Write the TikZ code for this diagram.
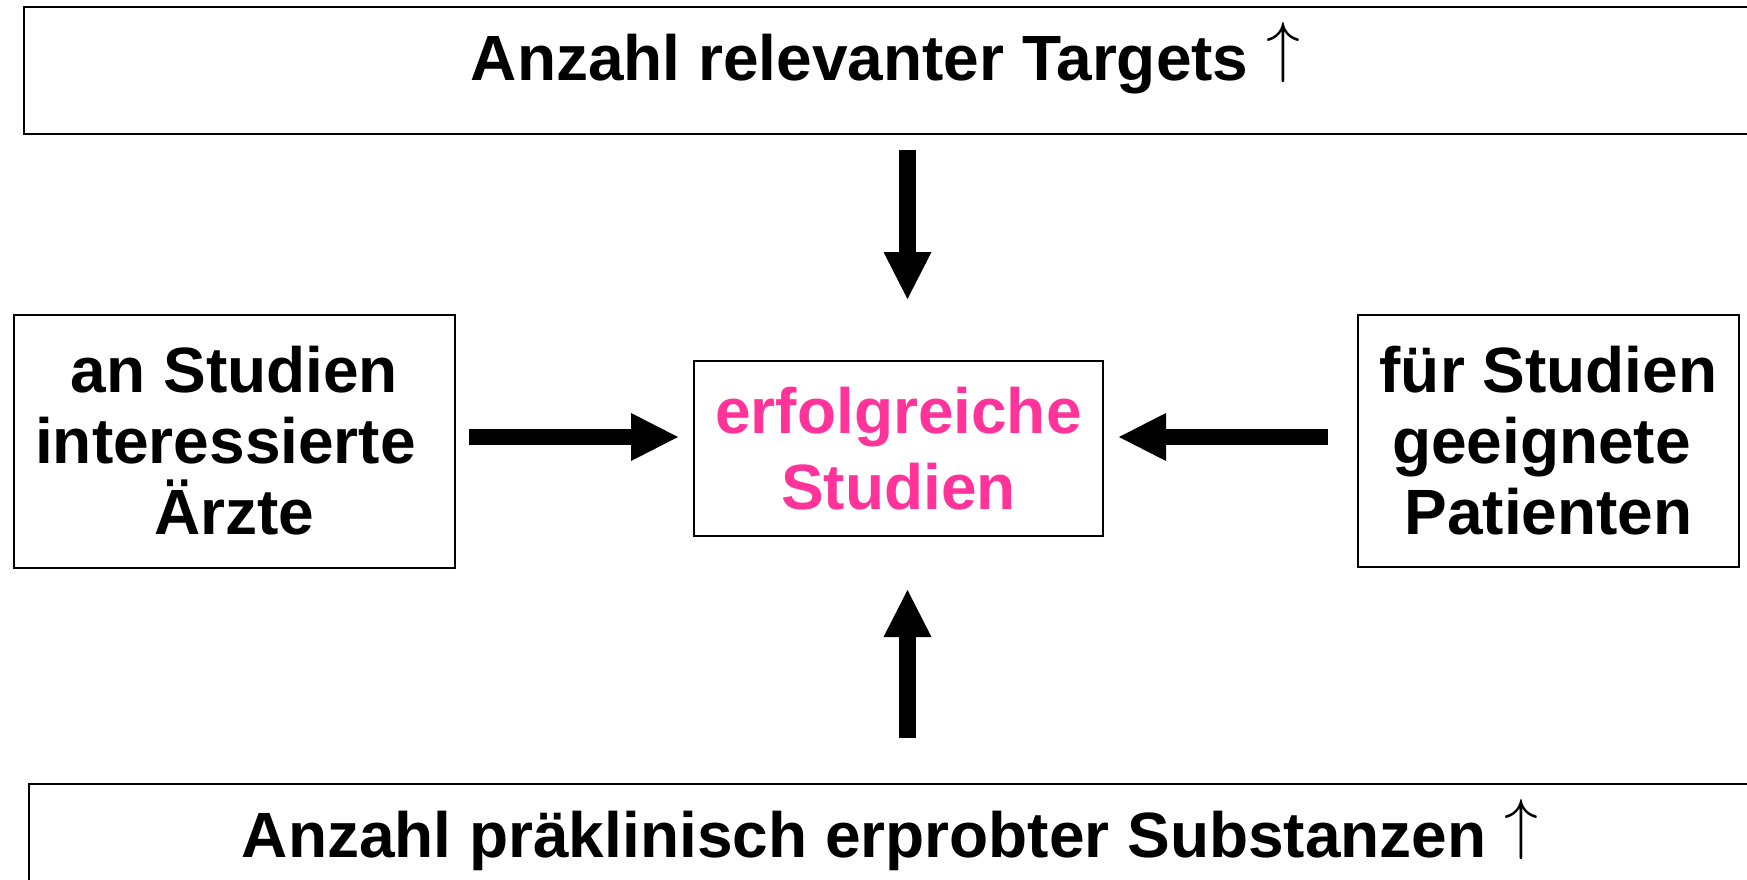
\documentclass[tikz,border=0pt]{standalone}
\usepackage{fontspec}
\setmainfont{Liberation Sans}
\usetikzlibrary{arrows.meta}
\definecolor{studypink}{RGB}{255,51,153}
\newcommand{\risearrow}{\raisebox{0.16em}{\scalebox{1.36}{$\uparrow$}}}
\begin{document}
\begin{tikzpicture}[x=0.5pt,y=-0.5pt,
  framebox/.style={draw=black,line width=1pt,inner sep=0pt,align=center,
    font=\bfseries\fontsize{32}{35.5}\selectfont},
  bigtext/.style={inner sep=0pt,anchor=base,font=\bfseries\fontsize{32}{36}\selectfont},
  blockarrow/.style={line width=8.25pt,
    -{Triangle[length=23.5pt,width=24pt,line width=0pt]}}]
\useasboundingbox (0,0) rectangle (1747,879);
\clip (0,0) rectangle (1747,879);

% frames
\node[framebox,minimum width=880pt,minimum height=63.5pt] (targets) at (904,70.5) {};
\node[bigtext] (targetstext) at (885.5,80) {Anzahl relevanter Targets \risearrow};

\node[framebox,minimum width=220.5pt,minimum height=126.5pt] (doctors) at (234.5,441)
  {an Studien\\interessierte\kern9pt\\Ärzte};
\node[framebox,minimum width=190.5pt,minimum height=126pt] (patients) at (1548.5,441)
  {für Studien\\geeignete\kern7pt\\Patienten};
\node[framebox,minimum width=204.5pt,minimum height=87.5pt,text=studypink,
  font=\bfseries\fontsize{32}{38}\selectfont] (study) at (898.5,448.5)
  {erfolgreiche\\Studien};

\node[framebox,minimum width=861pt,minimum height=63.5pt] (substances) at (890,847.5) {};
\node[bigtext] (substancestext) at (890,857)
  {Anzahl präklinisch erprobter Substanzen \risearrow};

% connectors
\coordinate (vx) at (907.5,0);
\coordinate (hy) at (0,437);
\draw[blockarrow,shorten <=7.5pt,shorten >=30.5pt] (targets.south -| vx) -- (study.north -| vx);
\draw[blockarrow,shorten <=22.5pt,shorten >=26.5pt] (substances.north -| vx) -- (study.south -| vx);
\draw[blockarrow,shorten <=6.5pt,shorten >=7.5pt] (doctors.east |- hy) -- (study.west |- hy);
\draw[blockarrow,shorten <=14.5pt,shorten >=7.5pt] (patients.west |- hy) -- (study.east |- hy);
\end{tikzpicture}
\end{document}
